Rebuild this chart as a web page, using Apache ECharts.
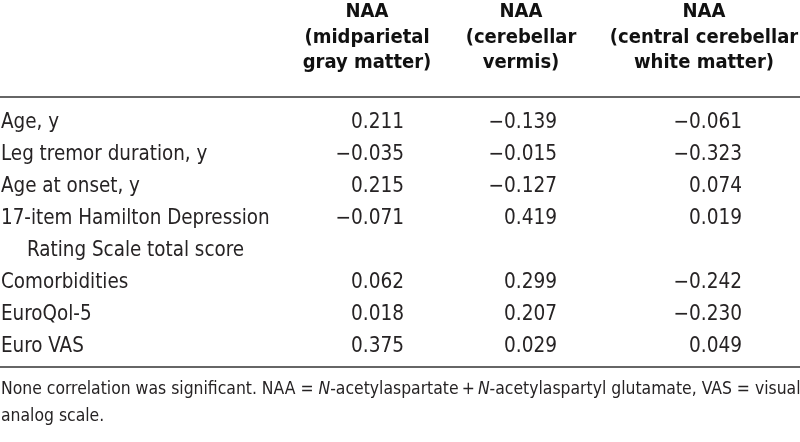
<!DOCTYPE html>
<html>
<head>
<meta charset="utf-8">
<script src="https://cdn.jsdelivr.net/npm/echarts@6/dist/echarts.min.js"></script>
<style>html,body{margin:0;padding:0;background:#fff;}#main{width:800px;height:442px;}</style>
</head>
<body>
<div id="main"></div>
<script>
// ---- data ----
var headers = [
  ['NAA', '(midparietal', 'gray matter)'],
  ['NAA', '(cerebellar', 'vermis)'],
  ['NAA', '(central cerebellar', 'white matter)']
];
var rowLabels = [
  ['Age, y'],
  ['Leg tremor duration, y'],
  ['Age at onset, y'],
  ['17-item Hamilton Depression', 'Rating Scale total score'],
  ['Comorbidities'],
  ['EuroQol-5'],
  ['Euro VAS']
];
var colMidparietal = [0.211, -0.035, 0.215, -0.071, 0.062, 0.018, 0.375];
var colVermis = [-0.139, -0.015, -0.127, 0.419, 0.299, 0.207, 0.029];
var colWhite = [-0.061, -0.323, 0.074, 0.019, -0.242, -0.230, 0.049];
var footLine1 = 'None correlation was significant. NAA = {i|N}-acetylaspartate\u2009+\u2009{i|N}-acetylaspartyl glutamate, VAS = visual';
var footLine2 = 'analog scale.';

// ---- layout ----
var FONT = '"Liberation Sans Narrow", "DejaVu Sans Condensed", "Arial Narrow", sans-serif';
var colRight = [404, 557, 742];
var colCenter = [367, 521, 704];
var headerY = [12, 38, 63];
var rowStartY = 123, rowStep = 31.9;
var textColor = '#262324';

function fmt(v) {
  var s = Math.abs(v).toFixed(3);
  return v < 0 ? '\u2212' + s : s;
}

var g = [];
headers.forEach(function (lines, c) {
  lines.forEach(function (t, k) {
    g.push({ type: 'text', x: colCenter[c], y: headerY[k],
      style: { text: t, fill: '#111', font: 'bold 20px ' + FONT, textAlign: 'center', textVerticalAlign: 'middle' } });
  });
});
g.push({ type: 'line', shape: { x1: 0, y1: 97, x2: 800, y2: 97 }, style: { stroke: '#333', lineWidth: 1.6 } });

var cols = [colMidparietal, colVermis, colWhite];
var line = 0;
rowLabels.forEach(function (lines, r) {
  var y0 = rowStartY + line * rowStep;
  lines.forEach(function (t, k) {
    g.push({ type: 'text', x: k === 0 ? 1 : 27, y: y0 + k * rowStep,
      style: { text: t, fill: textColor, font: '20.4px ' + FONT, textAlign: 'left', textVerticalAlign: 'middle' } });
  });
  cols.forEach(function (col, c) {
    g.push({ type: 'text', x: colRight[c], y: y0,
      style: { text: fmt(col[r]), fill: textColor, font: '20.6px ' + FONT, textAlign: 'right', textVerticalAlign: 'middle' } });
  });
  line += lines.length;
});
g.push({ type: 'line', shape: { x1: 0, y1: 367, x2: 800, y2: 367 }, style: { stroke: '#333', lineWidth: 1.6 } });

var richI = { i: { fontStyle: 'italic', fontSize: 17.4, fontFamily: FONT, fill: textColor } };
g.push({ type: 'text', x: 1, y: 389,
  style: { text: footLine1, rich: richI, fill: textColor, fontSize: 17.4, fontFamily: FONT, textAlign: 'left', textVerticalAlign: 'middle' } });
g.push({ type: 'text', x: 1, y: 416,
  style: { text: footLine2, fill: textColor, fontSize: 17.4, fontFamily: FONT, textAlign: 'left', textVerticalAlign: 'middle' } });

var chart = echarts.init(document.getElementById('main'));
chart.setOption({ backgroundColor: '#fff', animation: false, graphic: g });
</script>
</body>
</html>
